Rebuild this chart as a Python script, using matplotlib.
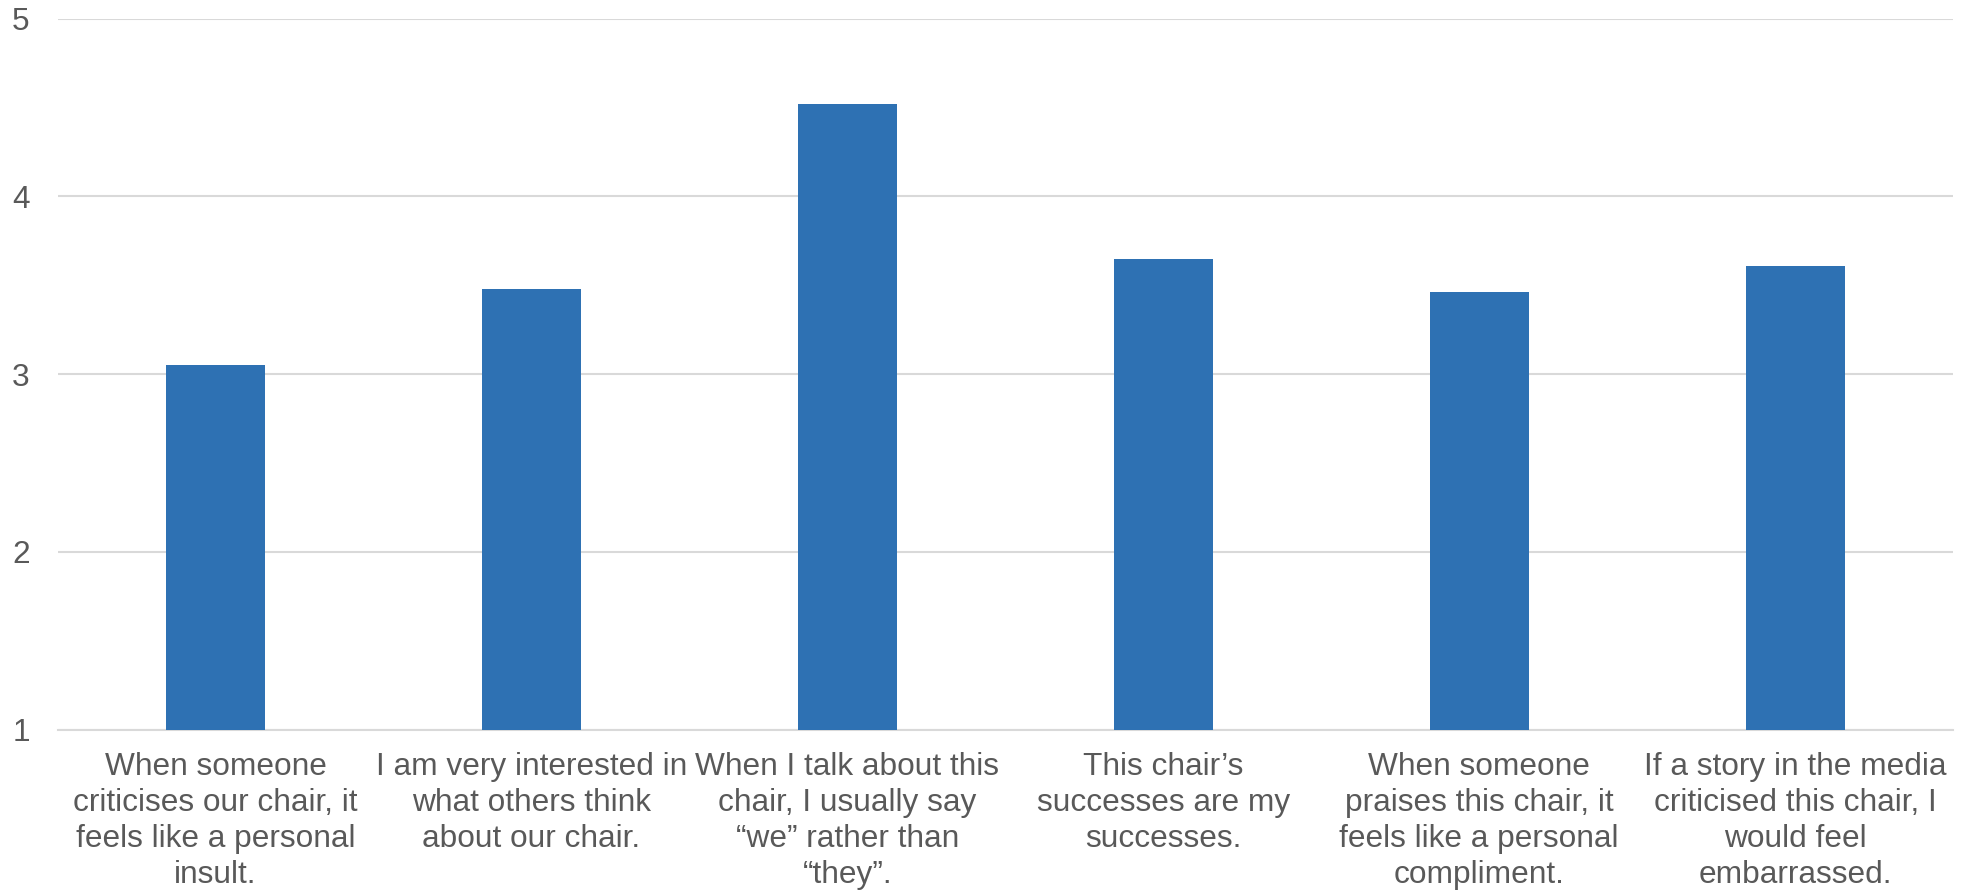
import matplotlib
matplotlib.use("Agg")
import matplotlib.pyplot as plt
import numpy as np

categories = [
    "When someone\ncriticises our chair, it\nfeels like a personal\ninsult.",
    "I am very interested in\nwhat others think\nabout our chair.",
    "When I talk about this\nchair, I usually say\n\u201cwe\u201d rather than\n\u201cthey\u201d.",
    "This chair\u2019s\nsuccesses are my\nsuccesses.",
    "When someone\npraises this chair, it\nfeels like a personal\ncompliment.",
    "If a story in the media\ncriticised this chair, I\nwould feel\nembarrassed.",
]
values = [3.05, 3.48, 4.52, 3.65, 3.46, 3.61]
y_ticks = [1, 2, 3, 4, 5]

plt.rcParams['font.family'] = ['Liberation Sans', 'DejaVu Sans']
text_color = '#595959'
grid_color = '#D9D9D9'
bar_color = '#2E71B3'

fig = plt.figure(figsize=(19.66, 8.93), dpi=100)
ax = fig.add_axes([0.0293, 0.1829, 0.9641, 0.7961])

x = np.arange(len(categories))
ax.bar(x, [v - 1 for v in values], bottom=1, width=0.313, color=bar_color, zorder=3)

ax.set_xlim(-0.5, len(categories) - 0.5)
ax.set_ylim(1, 5)
ax.set_yticks(y_ticks)
ax.set_yticklabels([str(t) for t in y_ticks])
ax.set_xticks(x)
ax.set_xticklabels(categories, linespacing=1.26)

for s in ax.spines.values():
    s.set_visible(False)
ax.yaxis.grid(True, color=grid_color, linewidth=1.5, zorder=0)
ax.axhline(1, color=grid_color, linewidth=1.5, zorder=1, clip_on=False)
ax.tick_params(axis='both', length=0, labelsize=22.8, labelcolor=text_color)
ax.tick_params(axis='y', pad=20)
ax.tick_params(axis='x', pad=16)

fig.savefig("out.png", dpi=100)
